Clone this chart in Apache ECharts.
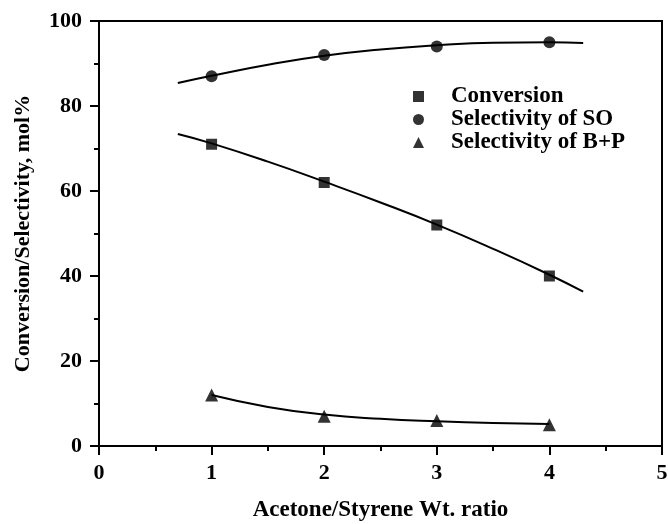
<!DOCTYPE html>
<html>
<head>
<meta charset="utf-8">
<script src="https://cdn.jsdelivr.net/npm/echarts@6/dist/echarts.min.js"></script>
<style>html,body{margin:0;padding:0;background:#fff;}#c{width:668px;height:524px;}</style>
</head>
<body>
<div id="c"></div>
<script>
// Measured points
var ratio = [1, 2, 3, 4];
var conversion = [71, 62, 52, 40];
var selSO = [87, 92, 94, 95];
var selBP = [12, 7, 6, 5];

// Fitted curves
var convFitX = [0.7, 1, 1.5, 2, 2.5, 3, 3.5, 4, 4.3];
var convFitY = [73.4, 71.2, 66.9, 62.2, 57.3, 52.1, 46.4, 40.3, 36.3];
var soFitX = [0.7, 1, 1.5, 2, 2.5, 3, 3.5, 4, 4.3];
var soFitY = [85.4, 87.1, 89.7, 91.8, 93.3, 94.3, 94.9, 95.0, 94.8];
var bpFitX = [1, 1.5, 2, 2.5, 3, 3.5, 4];
var bpFitY = [12.0, 9.2, 7.4, 6.4, 5.8, 5.4, 5.2];

var xTicks = [0, 1, 2, 3, 4, 5];
var yTicks = [0, 20, 40, 60, 80, 100];

function pairs(xs, ys) { return xs.map(function (x, i) { return [x, ys[i]]; }); }

var FONT = '"Liberation Serif", "Times New Roman", serif';
var chart = echarts.init(document.getElementById('c'), null, {renderer: 'canvas'});
var fitStyle = {color: '#000', width: 2};
chart.setOption({
  animation: false,
  backgroundColor: '#fff',
  grid: {left: 99, right: 6, top: 21, bottom: 78, containLabel: false, outerBoundsMode: 'none',
         show: true, borderColor: '#000', borderWidth: 2, backgroundColor: 'transparent'},
  legend: {
    orient: 'vertical', left: 408, top: 80, itemWidth: 11, itemHeight: 11, itemGap: 0,
    textStyle: {fontFamily: FONT, fontWeight: 'bold', fontSize: 23, color: '#000', padding: [0, 0, 0, 22]},
    data: [{name: 'Conversion', icon: 'rect'}, {name: 'Selectivity of SO', icon: 'circle'}, {name: 'Selectivity of B+P', icon: 'triangle'}]
  },
  xAxis: {
    type: 'value', min: xTicks[0], max: xTicks[xTicks.length - 1], interval: 1,
    name: 'Acetone/Styrene Wt. ratio', nameLocation: 'middle', nameGap: 53,
    nameTextStyle: {fontFamily: FONT, fontWeight: 'bold', fontSize: 23, color: '#000'},
    axisLine: {onZero: false, lineStyle: {color: '#000', width: 2}},
    axisTick: {inside: false, length: 9, lineStyle: {color: '#000', width: 2}},
    minorTick: {show: true, splitNumber: 2, length: 5, lineStyle: {color: '#000', width: 2}},
    axisLabel: {fontFamily: FONT, fontWeight: 'bold', fontSize: 22, color: '#000', margin: 16},
    splitLine: {show: false}
  },
  yAxis: {
    type: 'value', min: yTicks[0], max: yTicks[yTicks.length - 1], interval: 20,
    name: 'Conversion/Selectivity, mol%', nameLocation: 'middle', nameGap: 65, nameRotate: 90,
    nameTextStyle: {fontFamily: FONT, fontWeight: 'bold', fontSize: 22, color: '#000'},
    axisLine: {onZero: false, lineStyle: {color: '#000', width: 2}},
    axisTick: {inside: false, length: 9, lineStyle: {color: '#000', width: 2}},
    minorTick: {show: true, splitNumber: 2, length: 5, lineStyle: {color: '#000', width: 2}},
    axisLabel: {fontFamily: FONT, fontWeight: 'bold', fontSize: 22, color: '#000', margin: 17},
    splitLine: {show: false}
  },
  series: [
    {type: 'line', smooth: true, showSymbol: false, silent: true, data: pairs(convFitX, convFitY), lineStyle: fitStyle, z: 1},
    {type: 'line', smooth: true, showSymbol: false, silent: true, data: pairs(soFitX, soFitY), lineStyle: fitStyle, z: 1},
    {type: 'line', smooth: true, showSymbol: false, silent: true, data: pairs(bpFitX, bpFitY), lineStyle: fitStyle, z: 1},
    {name: 'Conversion', type: 'scatter', symbol: 'rect', symbolSize: 11, itemStyle: {color: '#000'}, data: pairs(ratio, conversion), z: 3},
    {name: 'Selectivity of SO', type: 'scatter', symbol: 'circle', symbolSize: 12, itemStyle: {color: '#000'}, data: pairs(ratio, selSO), z: 3},
    {name: 'Selectivity of B+P', type: 'scatter', symbol: 'triangle', symbolSize: 13, itemStyle: {color: '#000'}, data: pairs(ratio, selBP), z: 3}
  ]
});
</script>
</body>
</html>
